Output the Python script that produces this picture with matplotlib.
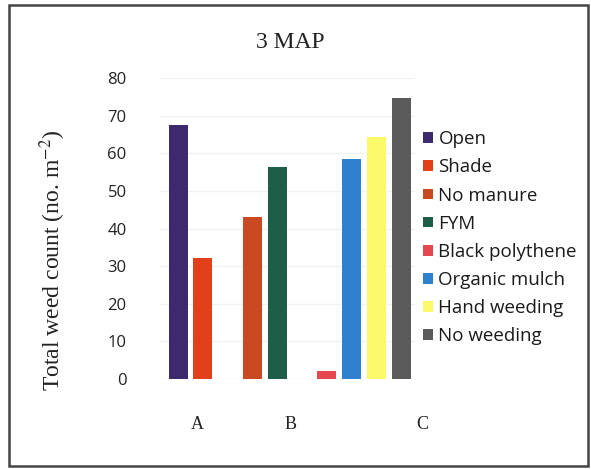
import matplotlib
matplotlib.use("Agg")
import matplotlib.pyplot as plt
from matplotlib.patches import Rectangle
from matplotlib.transforms import blended_transform_factory

plt.rcParams["mathtext.fontset"] = "stix"

# Treatments, the group each belongs to, and weed counts at 3 MAP
categories = ["A", "B", "C"]
treatments = ["Open", "Shade", "No manure", "FYM", "Black polythene",
              "Organic mulch", "Hand weeding", "No weeding"]
treatment_group = ["A", "A", "B", "B", "C", "C", "C", "C"]
weed_count = [67.5, 32.2, 43.1, 56.3, 2.2, 58.4, 64.2, 74.6]
colors = ["#3d2a6e", "#e2401a", "#c94a22", "#1e5e48", "#e5474e",
          "#2f80cf", "#fdfa6a", "#5a5a5a"]
y_ticks = [0, 10, 20, 30, 40, 50, 60, 70, 80]

W, H = 591, 469
fig = plt.figure(figsize=(W / 100, H / 100), dpi=100)

def fx(px):
    return px / W

def fy(py):
    return 1 - py / H

# outer frame
fig.patches.append(Rectangle((fx(9), fy(466)), fx(579), (466 - 5) / H,
                             transform=fig.transFigure, fill=False,
                             edgecolor="#444444", linewidth=1.8))

ax = fig.add_axes([fx(160), fy(379), fx(255), (379 - 78) / H])

# bar slots: groups laid side by side with one empty slot between them
positions = []
slot = 0
prev = None
for g in treatment_group:
    if prev is not None and g != prev:
        slot += 1
    positions.append(slot)
    slot += 1
    prev = g

bars = ax.bar(positions, weed_count, width=0.77, color=colors, zorder=3)

ax.set_yticks(y_ticks)
ax.set_yticklabels([str(v) for v in y_ticks], fontfamily="Open Sans",
                   fontsize=12, color="#222222")
ax.tick_params(axis="y", length=0, pad=24)
ax.set_xticks([])
ax.set_xlim(-0.73, 9.56)
ax.set_ylim(0, 80)
ax.grid(axis="y", color="#f1f1f1", linewidth=1, zorder=0)
for s in ax.spines.values():
    s.set_visible(False)

# category labels under the groups
label_pos = [0.77, 4.52, 9.84]
trans = blended_transform_factory(ax.transData, ax.transAxes)
for name, xp in zip(categories, label_pos):
    ax.text(xp, -0.152, name, transform=trans, ha="center", va="center",
            fontfamily="Liberation Serif", fontsize=13, color="#222222",
            clip_on=False)

ax.set_ylabel("Total weed count (no. m$^{-2}$)", fontfamily="Liberation Serif",
              fontsize=17, color="#222222")
ax.yaxis.set_label_coords((68 - 160) / 255, 0.395)

fig.text(fx(290), fy(42), "3 MAP", fontfamily="Liberation Serif",
         fontsize=17, color="#222222", ha="center", va="center")

leg = fig.legend(bars, treatments, loc="upper left",
                 bbox_to_anchor=(fx(414), fy(121)), frameon=False,
                 prop={"family": "Open Sans", "size": 13.5},
                 handlelength=0.5, handleheight=0.5, handletextpad=0.3,
                 labelspacing=0.54, borderpad=0)
for t in leg.get_texts():
    t.set_color("#1a1a1a")

fig.savefig("out.png", dpi=100)
